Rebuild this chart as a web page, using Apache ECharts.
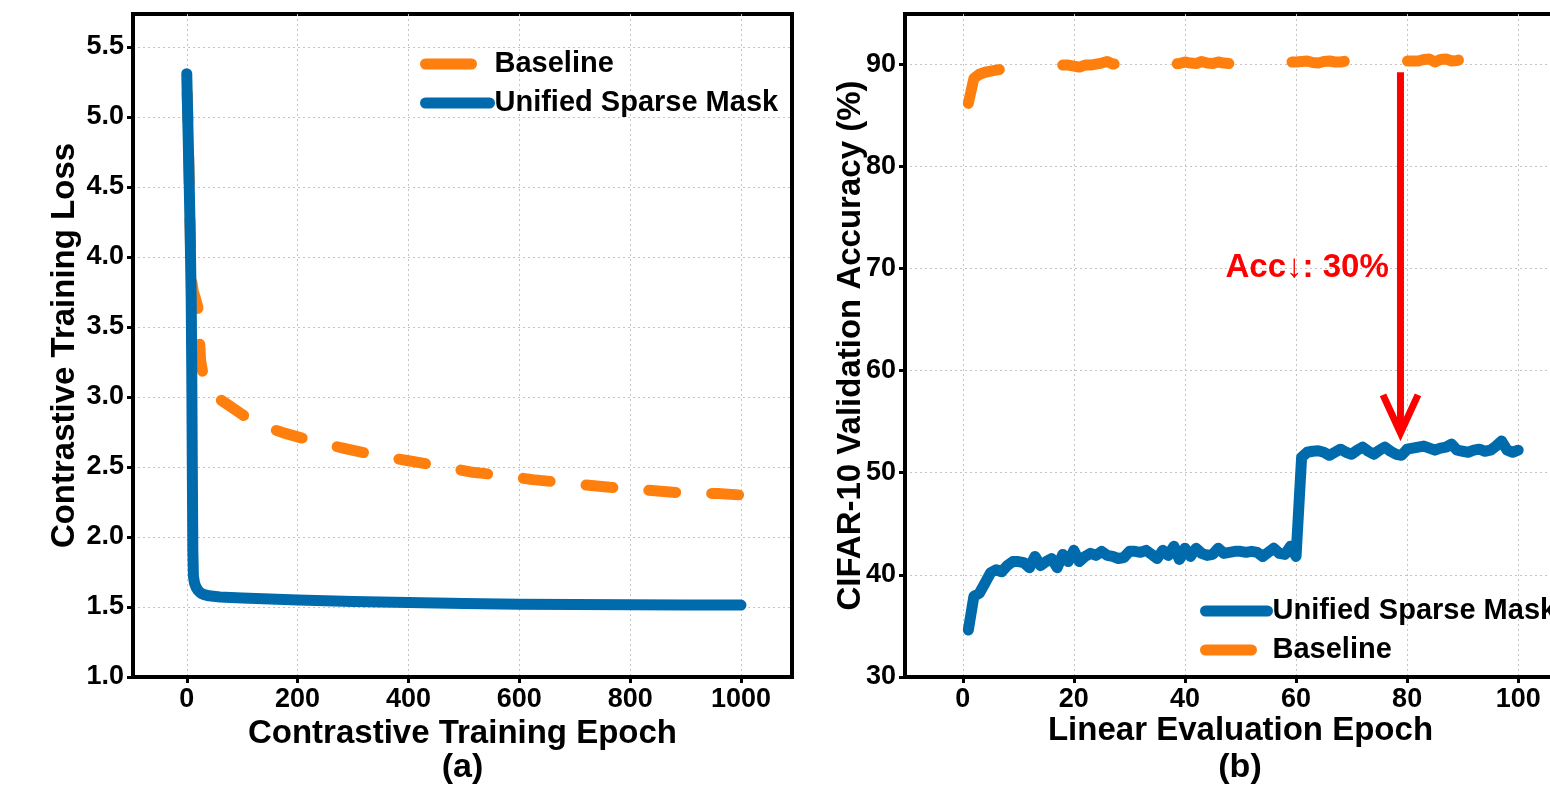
<!DOCTYPE html>
<html><head><meta charset="utf-8">
<script src="https://cdn.jsdelivr.net/npm/echarts@6/dist/echarts.min.js"></script>
<style>html,body{margin:0;padding:0;background:#fff}#c{width:1550px;height:790px}</style>
</head><body><div id="c"></div>
<script>
// ---------- Panel (a): contrastive training loss ----------
const lossSparseEpochs = [0, 2, 4, 6, 8, 9, 10, 11, 12, 14, 17, 20, 25, 30, 40, 60, 100, 150, 200, 300, 400, 500, 600, 700, 800, 900, 1000];
const lossSparseValues = [5.31, 4.95, 4.6, 4.2, 3.7, 3.2, 2.5, 1.9, 1.72, 1.67, 1.64, 1.62, 1.60, 1.59, 1.58, 1.572, 1.565, 1.558, 1.55, 1.54, 1.532, 1.525, 1.52, 1.518, 1.516, 1.515, 1.514];
const lossBaseEpochs = [0, 2, 4, 6, 8, 12, 16, 20, 25, 30, 40, 50, 61, 80, 100, 114, 140, 178, 205, 233, 282, 346, 400, 458, 512, 568, 624, 700, 763, 828, 893, 958, 1000];
const lossBaseValues = [5.32, 4.97, 4.62, 4.22, 3.85, 3.75, 3.7, 3.64, 3.26, 3.15, 3.06, 3.01, 2.98, 2.93, 2.875, 2.84, 2.79, 2.74, 2.71, 2.68, 2.635, 2.58, 2.545, 2.505, 2.465, 2.44, 2.41, 2.38, 2.355, 2.335, 2.315, 2.31, 2.30];
const lossXTicks = [0, 200, 400, 600, 800, 1000];
const lossYTicks = [1.0, 1.5, 2.0, 2.5, 3.0, 3.5, 4.0, 4.5, 5.0, 5.5];

// ---------- Panel (b): linear evaluation accuracy ----------
const accEpochs = [1,2,3,4,5,6,7,8,9,10,11,12,13,14,15,16,17,18,19,20,21,22,23,24,25,26,27,28,29,30,31,32,33,34,35,36,37,38,39,40,41,42,43,44,45,46,47,48,49,50,51,52,53,54,55,56,57,58,59,60,61,62,63,64,65,66,67,68,69,70,71,72,73,74,75,76,77,78,79,80,81,82,83,84,85,86,87,88,89,90,91,92,93,94,95,96,97,98,99,100];
const accSparseValues = [34.6, 37.9, 38.2, 39.2, 40.2, 40.5, 40.3, 40.9, 41.3, 41.3,
  41.2, 40.7, 41.8, 40.9, 41.3, 41.6, 40.7, 42.0, 41.3, 42.4,
  41.3, 41.8, 42.1, 41.9, 42.3, 41.9, 41.8, 41.6, 41.7, 42.3,
  42.3, 42.2, 42.4, 42.0, 41.6, 42.4, 41.9, 42.8, 41.5, 42.6,
  41.8, 42.6, 42.1, 41.9, 42.0, 42.6, 42.1, 42.2, 42.3, 42.3,
  42.2, 42.3, 42.2, 41.8, 42.2, 42.6, 42.1, 42.0, 42.8, 41.8,
  51.5, 52.0, 52.1, 52.15, 52.0, 51.7, 52.0, 52.3, 52.0, 51.8,
  52.2, 52.5, 52.1, 51.8, 52.2, 52.5, 52.1, 51.8, 51.7, 52.3,
  52.4, 52.5, 52.6, 52.4, 52.2, 52.4, 52.5, 52.8, 52.2, 52.1,
  52.0, 52.2, 52.3, 52.1, 52.2, 52.6, 53.1, 52.2, 52.0, 52.2];
const accBaseValues = [86.15, 88.6, 89.0, 89.2, 89.3, 89.4, 89.5, 89.6, 89.6, 89.7,
  89.7, 89.8, 89.8, 89.8, 89.9, 89.8, 89.9, 89.9, 89.9, 89.8,
  89.7, 89.9, 89.9, 90.0, 90.1, 90.25, 90.0, 90.05, 90.1, 90.0,
  90.0, 89.9, 90.1, 90.0, 90.1, 90.0, 90.1, 90.0, 90.05, 90.2,
  90.1, 90.05, 90.25, 90.1, 90.05, 90.2, 90.1, 90.05, 90.05, 90.1,
  90.2, 90.1, 90.2, 90.1, 90.2, 90.1, 90.2, 90.1, 90.2, 90.2,
  90.25, 90.3, 90.15, 90.1, 90.25, 90.3, 90.2, 90.2, 90.3, 90.35,
  90.3, 90.2, 90.3, 90.4, 90.3, 90.3, 90.4, 90.3, 90.4, 90.3,
  90.3, 90.3, 90.45, 90.5, 90.2, 90.45, 90.5, 90.3, 90.35, 90.5,
  90.3, 90.4, 90.3, 90.4, 90.5, 90.3, 90.4, 90.4, 90.3, 90.4];
const accXTicks = [0, 20, 40, 60, 80, 100];
const accYTicks = [30, 40, 50, 60, 70, 80, 90];

// annotation: arrow at epoch ~79 from 89.2 % down to 53.9 %, label centred at (62, 70)
const arrowEpoch = 78.8, arrowFrom = 89.2, arrowTo = 53.9;
const noteText = 'Acc↓: 30%';
const notePos = [62, 70];

const NAME_SPARSE = 'Unified Sparse Mask';
const NAME_BASE = 'Baseline';
const BLUE = '#006bac';
const ORANGE = '#ff7f0e';
const FONT = '"Liberation Sans", Arial, Helvetica, sans-serif';

const zip = (xs, ys) => xs.map((x, i) => [x, ys[i]]);

function xAxisCfg(gridIndex, min, max, ticks, name, nameGap) {
  return {
    type: 'value', gridIndex, min, max, name, nameLocation: 'middle', nameGap,
    nameMoveOverlap: false,
    nameTextStyle: { fontSize: 33, fontWeight: 'bold', color: '#000', fontFamily: FONT },
    axisLine: { show: true, onZero: false, lineStyle: { color: '#000', width: 4 } },
    axisTick: { show: true, customValues: ticks, length: 6, lineStyle: { color: '#000', width: 3 } },
    axisLabel: { customValues: ticks, fontSize: 27, fontWeight: 'bold', color: '#000', fontFamily: FONT, margin: 9, formatter: v => String(v) },
    splitLine: { show: true, lineStyle: { color: '#c4c4c4', width: 1, type: [2, 3] } }
  };
}
function yAxisCfg(gridIndex, min, max, ticks, name, nameGap, fmt) {
  return {
    type: 'value', gridIndex, min, max, name, nameLocation: 'middle', nameGap, nameRotate: 90,
    nameMoveOverlap: false,
    nameTextStyle: { fontSize: 33, fontWeight: 'bold', color: '#000', fontFamily: FONT },
    axisLine: { show: true, onZero: false, lineStyle: { color: '#000', width: 4 } },
    axisTick: { show: true, customValues: ticks, length: 6, lineStyle: { color: '#000', width: 3 } },
    axisLabel: { customValues: ticks, fontSize: 27, fontWeight: 'bold', color: '#000', fontFamily: FONT, margin: 9, formatter: fmt },
    splitLine: { show: true, lineStyle: { color: '#c4c4c4', width: 1, type: [2, 3] } }
  };
}
const legendCommon = {
  orient: 'vertical', itemWidth: 64, itemHeight: 14, itemGap: 9, padding: 0,
  textStyle: { fontSize: 29, fontWeight: 'bold', color: '#000', fontFamily: FONT, lineHeight: 30 },
  itemStyle: { opacity: 0 },
  lineStyle: { width: 11, cap: 'round' },
  selectedMode: false
};

const chart = echarts.init(document.getElementById('c'), null, { renderer: 'canvas' });
chart.setOption({
  backgroundColor: '#fff',
  animation: false,
  grid: [
    { left: 133, top: 14, width: 659, height: 663, show: true, borderColor: '#000', borderWidth: 4, backgroundColor: 'transparent', outerBoundsMode: 'none', containLabel: false },
    { left: 905, top: 14, width: 671, height: 663, show: true, borderColor: '#000', borderWidth: 4, backgroundColor: 'transparent', outerBoundsMode: 'none', containLabel: false }
  ],
  xAxis: [
    xAxisCfg(0, -97, 1092, lossXTicks, 'Contrastive Training Epoch', 40),
    xAxisCfg(1, -10.4, 110.4, accXTicks, 'Linear Evaluation Epoch', 37)
  ],
  yAxis: [
    yAxisCfg(0, 1.0, 5.736, lossYTicks, 'Contrastive Training Loss', 52, v => v.toFixed(1)),
    yAxisCfg(1, 30, 94.9, accYTicks, 'CIFAR-10 Validation Accuracy (%)', 38, v => String(v))
  ],
  legend: [
    Object.assign({}, legendCommon, {
      left: 420, top: 49,
      data: [
        { name: NAME_BASE, lineStyle: { type: [46, 40], dashOffset: 0, width: 11, cap: 'round' } },
        { name: NAME_SPARSE }
      ]
    }),
    Object.assign({}, legendCommon, {
      left: 1200, top: 596, itemWidth: 62,
      data: [
        { name: NAME_SPARSE },
        { name: NAME_BASE, lineStyle: { type: [46, 40], dashOffset: 0, width: 11, cap: 'round' } }
      ]
    })
  ],
  graphic: [
    { type: 'text', x: 462.5, y: 768, style: { text: '(a)', fontSize: 34, fontWeight: 'bold', fontFamily: FONT, fill: '#000', align: 'center', verticalAlign: 'middle' } },
    { type: 'text', x: 1240, y: 768, style: { text: '(b)', fontSize: 34, fontWeight: 'bold', fontFamily: FONT, fill: '#000', align: 'center', verticalAlign: 'middle' } }
  ],
  series: [
    {
      name: NAME_BASE, type: 'line', xAxisIndex: 0, yAxisIndex: 0,
      data: zip(lossBaseEpochs, lossBaseValues), showSymbol: false, symbol: 'none',
      lineStyle: { color: ORANGE, width: 11, type: [27, 36], dashOffset: 42, cap: 'round', join: 'round' },
      itemStyle: { color: ORANGE }, z: 2
    },
    {
      name: NAME_SPARSE, type: 'line', xAxisIndex: 0, yAxisIndex: 0,
      data: zip(lossSparseEpochs, lossSparseValues), showSymbol: false, symbol: 'none',
      lineStyle: { color: BLUE, width: 11, cap: 'round', join: 'round' },
      itemStyle: { color: BLUE }, z: 3
    },
    {
      name: NAME_SPARSE, type: 'line', xAxisIndex: 1, yAxisIndex: 1,
      data: zip(accEpochs, accSparseValues), showSymbol: false, symbol: 'none',
      lineStyle: { color: BLUE, width: 11, cap: 'round', join: 'round' },
      itemStyle: { color: BLUE }, z: 3
    },
    {
      name: NAME_BASE, type: 'line', xAxisIndex: 1, yAxisIndex: 1,
      data: zip(accEpochs, accBaseValues), showSymbol: false, symbol: 'none',
      lineStyle: { color: ORANGE, width: 11, type: [53, 64], dashOffset: 0, cap: 'round', join: 'round' },
      itemStyle: { color: ORANGE }, z: 2
    },
    {
      type: 'custom', xAxisIndex: 1, yAxisIndex: 1, z: 5, silent: true,
      data: [[arrowEpoch, arrowFrom, arrowTo]],
      renderItem: (params, api) => {
        const top = api.coord([api.value(0), api.value(1)]);
        const tip = api.coord([api.value(0), api.value(2)]);
        return {
          type: 'group', children: [
            { type: 'line', shape: { x1: top[0], y1: top[1], x2: tip[0], y2: tip[1] - 3 }, style: { stroke: '#ff0000', lineWidth: 7 } },
            { type: 'polyline', shape: { points: [[tip[0] - 17.5, tip[1] - 38], [tip[0], tip[1]], [tip[0] + 17.5, tip[1] - 38]] },
              style: { stroke: '#ff0000', lineWidth: 7, fill: null, lineJoin: 'miter' } }
          ]
        };
      }
    },
    {
      type: 'custom', xAxisIndex: 1, yAxisIndex: 1, z: 5, silent: true,
      data: [notePos],
      renderItem: (params, api) => {
        const p = api.coord([api.value(0), api.value(1)]);
        return { type: 'text', x: p[0], y: p[1],
          style: { text: noteText, fill: '#ff0000', fontSize: 33, fontWeight: 'bold', fontFamily: FONT, align: 'center', verticalAlign: 'middle' } };
      }
    }
  ]
});
</script></body></html>
